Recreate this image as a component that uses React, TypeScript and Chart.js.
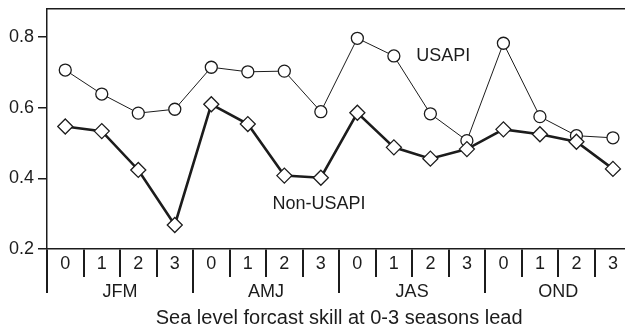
import React, { useEffect, useRef } from 'react';
import { Chart, registerables } from 'chart.js';

Chart.register(...registerables);

const leads = ['0', '1', '2', '3', '0', '1', '2', '3', '0', '1', '2', '3', '0', '1', '2', '3'];
const seasons = ['JFM', 'AMJ', 'JAS', 'OND'];
const usapi = [0.707, 0.639, 0.585, 0.596, 0.715, 0.702, 0.704, 0.589, 0.797, 0.747, 0.583, 0.507, 0.783, 0.575, 0.521, 0.515];
const nonUsapi = [0.547, 0.534, 0.424, 0.268, 0.61, 0.554, 0.408, 0.402, 0.586, 0.488, 0.456, 0.483, 0.539, 0.525, 0.504, 0.427];
const yTicks = [0.2, 0.4, 0.6, 0.8];
const xTitle = 'Sea level forcast skill at 0-3 seasons lead';
const seriesLabels = [
  { text: 'USAPI', x: 10.35, y: 0.748 },
  { text: 'Non-USAPI', x: 6.95, y: 0.3275 },
];

const INK = '#1c1c1c';
const FONT = "'Liberation Sans', Arial, Helvetica, sans-serif";

const labelPlugin = {
  id: 'seriesLabels',
  afterDatasetsDraw(chart: any) {
    const { ctx, scales } = chart;
    const xs = scales.x;
    const ys = scales.y;
    ctx.save();
    ctx.font = `18px ${FONT}`;
    ctx.fillStyle = INK;
    ctx.textAlign = 'center';
    ctx.textBaseline = 'middle';
    seriesLabels.forEach((l) => {
      ctx.fillText(l.text, xs.getPixelForValue(l.x), ys.getPixelForValue(l.y));
    });
    ctx.restore();
  },
};

export default function App() {
  const ref = useRef<HTMLCanvasElement | null>(null);

  useEffect(() => {
    if (!ref.current) return;
    Chart.defaults.font.family = FONT;
    const chart = new Chart(ref.current, {
      type: 'line',
      data: {
        labels: leads,
        datasets: [
          {
            label: 'USAPI',
            data: usapi,
            borderColor: INK,
            borderWidth: 1,
            pointStyle: 'circle',
            pointRadius: 6,
            pointBorderWidth: 1.3,
            pointBackgroundColor: '#ffffff',
            pointBorderColor: INK,
            tension: 0,
            order: 1,
            xAxisID: 'x',
            yAxisID: 'y',
          },
          {
            label: 'Non-USAPI',
            data: nonUsapi,
            borderColor: INK,
            borderWidth: 2.6,
            pointStyle: 'rectRot',
            pointRadius: 7.5,
            pointBorderWidth: 1.3,
            pointBackgroundColor: '#ffffff',
            pointBorderColor: INK,
            tension: 0,
            order: 0,
            xAxisID: 'x',
            yAxisID: 'y',
          },
        ],
      },
      options: {
        responsive: false,
        animation: false,
        layout: { padding: { left: 0, right: 7, top: 0, bottom: 0 } },
        plugins: { legend: { display: false }, tooltip: { enabled: false } },
        scales: {
          x: {
            type: 'category',
            position: 'bottom',
            labels: leads,
            offset: true,
            grid: { offset: true, drawOnChartArea: false, drawTicks: true, tickLength: 28, color: INK, lineWidth: 2 },
            border: { display: true, color: INK, width: 1.5 },
            ticks: { padding: -24, color: INK, font: { size: 18 }, maxRotation: 0, autoSkip: false },
            afterFit: (s: any) => { s.height = 28; s.paddingLeft = 0; s.paddingRight = 0; },
          },
          x2: {
            type: 'category',
            position: 'bottom',
            labels: seasons,
            offset: true,
            grid: { offset: true, drawOnChartArea: false, drawTicks: true, tickLength: 16, color: INK, lineWidth: 2 },
            border: { display: false },
            ticks: { padding: -12, color: INK, font: { size: 18 }, maxRotation: 0, autoSkip: false },
            title: { display: true, text: xTitle, color: INK, font: { size: 20 }, padding: { top: 0, bottom: 1 } },
            afterFit: (s: any) => { s.height = 54; s.paddingLeft = 0; s.paddingRight = 0; },
          },
          x3: {
            type: 'category',
            position: 'top',
            labels: leads,
            offset: true,
            grid: { display: false },
            ticks: { display: false },
            border: { display: true, color: INK, width: 1.5 },
            afterFit: (s: any) => { s.height = 9; s.paddingLeft = 0; s.paddingRight = 0; },
          },
          y: {
            type: 'linear',
            min: 0.2,
            max: 0.88,
            afterBuildTicks: (s: any) => { s.ticks = yTicks.map((v) => ({ value: v })); },
            ticks: { callback: (v: any) => Number(v).toFixed(1), padding: 4, color: INK, font: { size: 18 } },
            grid: { drawOnChartArea: false, drawTicks: true, tickLength: 9, color: INK, lineWidth: 1.5 },
            border: { display: true, color: INK, width: 1.5 },
            afterFit: (s: any) => { s.width = 47; s.paddingTop = 0; s.paddingBottom = 0; },
          },
        },
      },
      plugins: [labelPlugin],
    } as any);
    return () => chart.destroy();
  }, []);

  return (
    <div style={{ position: 'absolute', left: 0, top: 0, width: 625, height: 331, overflow: 'hidden', background: '#ffffff' }}>
      <canvas ref={ref} width={640} height={331} style={{ display: 'block' }} />
    </div>
  );
}
